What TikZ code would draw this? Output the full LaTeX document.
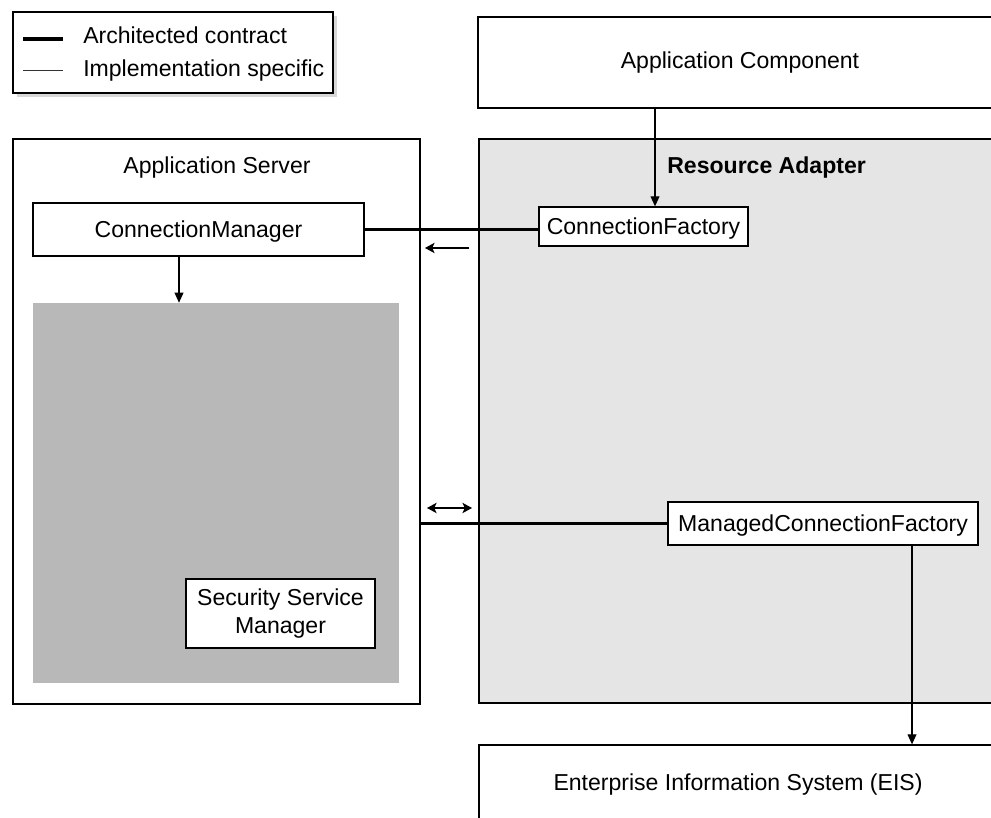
\documentclass[tikz,border=0pt]{standalone}
\usepackage{fontspec}
\setmainfont{Liberation Sans}
\usetikzlibrary{arrows.meta,positioning,shadows}

\begin{document}
\begin{tikzpicture}[
  font=\fontsize{16.4}{19.5}\selectfont,
  block/.style={draw,line width=0.9pt,inner sep=0pt},
  tag/.style={block,fill=white,text height=11.8pt,text depth=0pt},
  caption/.style={inner sep=0pt},
  arch/.style={line width=2.8pt},
  flow/.style={line width=0.9pt,-{Triangle[length=0.25cm,width=0.22cm]}},
  hint/.style={line width=0.8pt}
]
  \useasboundingbox (0,0) rectangle (24.775,20.45);
  \clip (0,0) rectangle (24.775,20.45);

  % Legend
  \node[block,fill=white,minimum width=8cm,minimum height=2.025cm,
    drop shadow={shadow xshift=0.1cm,shadow yshift=-0.1cm,fill=black!30}] (legend) at (4.325,19.1375) {};
  \coordinate (lgarchA) at (0.575,19.475);
  \coordinate (lgarchB) at (1.575,19.475);
  \coordinate (lgimplA) at (0.575,18.675);
  \coordinate (lgimplB) at (1.575,18.675);
  \draw[arch] (lgarchA) -- (lgarchB);
  \draw[line width=0.7pt,black!80] (lgimplA) -- (lgimplB);
  \node[caption,anchor=base west] (lgarch) at (2.075,19.37) {Architected contract};
  \node[caption,anchor=base west] (lgimpl) at (2.075,18.53) {Implementation specific};

  % Top and bottom
  \node[block,minimum width=13.1cm,minimum height=2.275cm] (appcomp) at (18.5,18.8875) {Application Component};
  \node[block,minimum width=12.95cm,minimum height=2cm] (eis) at (18.45,0.825) {Enterprise Information System (EIS)};

  % Application server
  \node[block,minimum width=10.175cm,minimum height=14.125cm] (appserver) at (5.4125,9.9125) {};
  \node[caption,anchor=base] (astitle) at (5.425,16.1) {Application Server};
  \node[tag,minimum width=8.275cm,minimum height=1.325cm] (cmgr) at (4.9625,14.7125) {ConnectionManager};
  \node[fill=black!28,minimum width=9.15cm,minimum height=9.5cm,inner sep=0pt] (pool) at (5.4,8.125) {};
  \node[block,fill=white,align=center,minimum width=4.725cm,minimum height=1.725cm] (secmgr) at (7.0125,5.1125) {Security Service\\Manager};

  % Resource adapter
  \node[block,fill=black!10,minimum width=13.075cm,minimum height=14.1cm] (adapter) at (18.5125,9.925) {};
  \node[caption,anchor=base west,font=\fontsize{16.4}{19.5}\selectfont\bfseries] (ratitle) at (16.675,16.1) {Resource Adapter};
  \node[tag,minimum width=5.225cm,minimum height=0.975cm] (cfact) at (16.0875,14.7875) {ConnectionFactory};
  \node[tag,minimum width=7.75cm,minimum height=1.075cm] (mcfact) at (20.575,7.3625) {ManagedConnectionFactory};

  % Connectors
  \coordinate (accol) at (16.375,0);
  \coordinate (cmcol) at (4.475,0);
  \coordinate (mccol) at (22.8,0);
  \draw[flow] (appcomp.south -| accol) -- (cfact.north -| accol);
  \draw[flow] (cmgr.south -| cmcol) -- (pool.north -| cmcol);
  \draw[flow] (mcfact.south -| mccol) -- (eis.north -| mccol);
  \draw[arch] (cmgr.east) -- (cmgr.east -| cfact.west);
  \draw[arch] (appserver.east |- mcfact.west) -- (mcfact.west);

  \coordinate (cfback) at (11.725,14.25);
  \coordinate (cmback) at (10.625,14.25);
  \draw[hint,-{Stealth[length=0.24cm,width=0.26cm,inset=0.06cm]}] (cfback) -- (cmback);
  \coordinate (spiL) at (10.675,7.75);
  \coordinate (spiR) at (11.8,7.75);
  \draw[hint,{Stealth[length=0.24cm,width=0.26cm,inset=0.06cm]}-{Stealth[length=0.24cm,width=0.26cm,inset=0.06cm]}] (spiL) -- (spiR);
\end{tikzpicture}
\end{document}
